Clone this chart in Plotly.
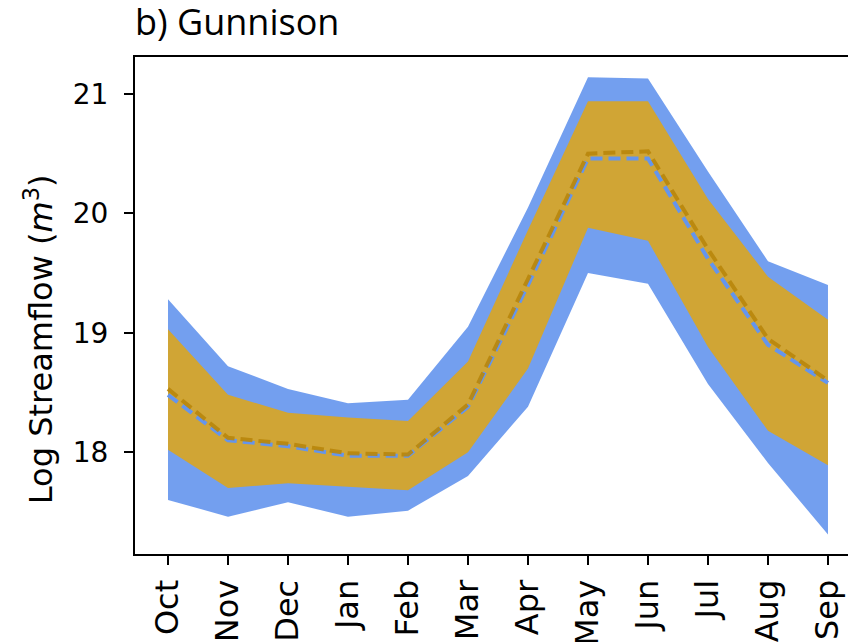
import plotly.graph_objects as go

months = ["Oct", "Nov", "Dec", "Jan", "Feb", "Mar", "Apr", "May", "Jun", "Jul", "Aug", "Sep"]
blue_upper = [19.28, 18.72, 18.53, 18.41, 18.44, 19.05, 20.05, 21.14, 21.13, 20.35, 19.60, 19.40]
blue_lower = [17.60, 17.46, 17.58, 17.46, 17.51, 17.80, 18.38, 19.50, 19.41, 18.57, 17.91, 17.31]
gold_upper = [19.03, 18.48, 18.33, 18.29, 18.26, 18.76, 19.86, 20.94, 20.94, 20.12, 19.47, 19.11]
gold_lower = [18.02, 17.70, 17.74, 17.71, 17.68, 18.00, 18.70, 19.88, 19.77, 18.88, 18.18, 17.89]
blue_median = [18.48, 18.10, 18.05, 17.97, 17.97, 18.38, 19.40, 20.46, 20.46, 19.62, 18.90, 18.58]
gold_median = [18.53, 18.12, 18.07, 17.99, 17.98, 18.40, 19.45, 20.50, 20.52, 19.70, 18.95, 18.60]
y_ticks = [18, 19, 20, 21]

xi = list(range(len(months)))

fig = go.Figure()
fig.add_trace(go.Scatter(x=xi + xi[::-1], y=blue_upper + blue_lower[::-1], fill="toself",
                         fillcolor="rgba(100,149,237,0.9)", line=dict(width=0), mode="lines",
                         hoverinfo="skip", showlegend=False))
fig.add_trace(go.Scatter(x=xi + xi[::-1], y=gold_upper + gold_lower[::-1], fill="toself",
                         fillcolor="rgba(218,165,32,0.9)", line=dict(width=0), mode="lines",
                         hoverinfo="skip", showlegend=False))
fig.add_trace(go.Scatter(x=xi, y=blue_median, mode="lines",
                         line=dict(color="#6495ED", width=4, dash="12px,6px"), showlegend=False))
fig.add_trace(go.Scatter(x=xi, y=gold_median, mode="lines",
                         line=dict(color="rgba(184,134,11,0.9)", width=4, dash="12px,6px"), showlegend=False))

fig.update_layout(
    width=848, height=634,
    margin=dict(l=127, r=0, t=49, b=88),
    paper_bgcolor="white", plot_bgcolor="white",
    font=dict(family="DejaVu Sans", color="black"),
)
fig.update_xaxes(
    automargin=False,
    range=[-0.55, 11.467], tickmode="array", tickvals=xi, ticktext=months, tickangle=-90,
    showgrid=False, zeroline=False, showline=True, linecolor="black", linewidth=2, mirror=True,
    ticks="outside", ticklen=9, tickwidth=2, tickcolor="black", tickfont=dict(size=32),
    ticklabelstandoff=2,
)
fig.update_yaxes(
    automargin=False,
    range=[17.147, 21.31], tickmode="array", tickvals=y_ticks, ticktext=[str(v) for v in y_ticks],
    showgrid=False, zeroline=False, showline=True, linecolor="black", linewidth=2,
    ticks="outside", ticklen=9, tickwidth=2, tickcolor="black", tickfont=dict(size=28),
    ticklabelstandoff=10,
)
fig.add_annotation(text="Log Streamflow (<i>m</i><sup>3</sup>)", textangle=-90,
                   xref="paper", yref="paper", x=-0.134, y=0.433, xanchor="center", yanchor="middle",
                   showarrow=False, font=dict(size=32, family="DejaVu Sans"))
fig.add_annotation(text="b) Gunnison", xref="paper", yref="paper", x=-0.003, y=1.072,
                   xanchor="left", yanchor="middle", showarrow=False,
                   font=dict(size=36, family="Open Sans"))

fig.write_html("out.html")
